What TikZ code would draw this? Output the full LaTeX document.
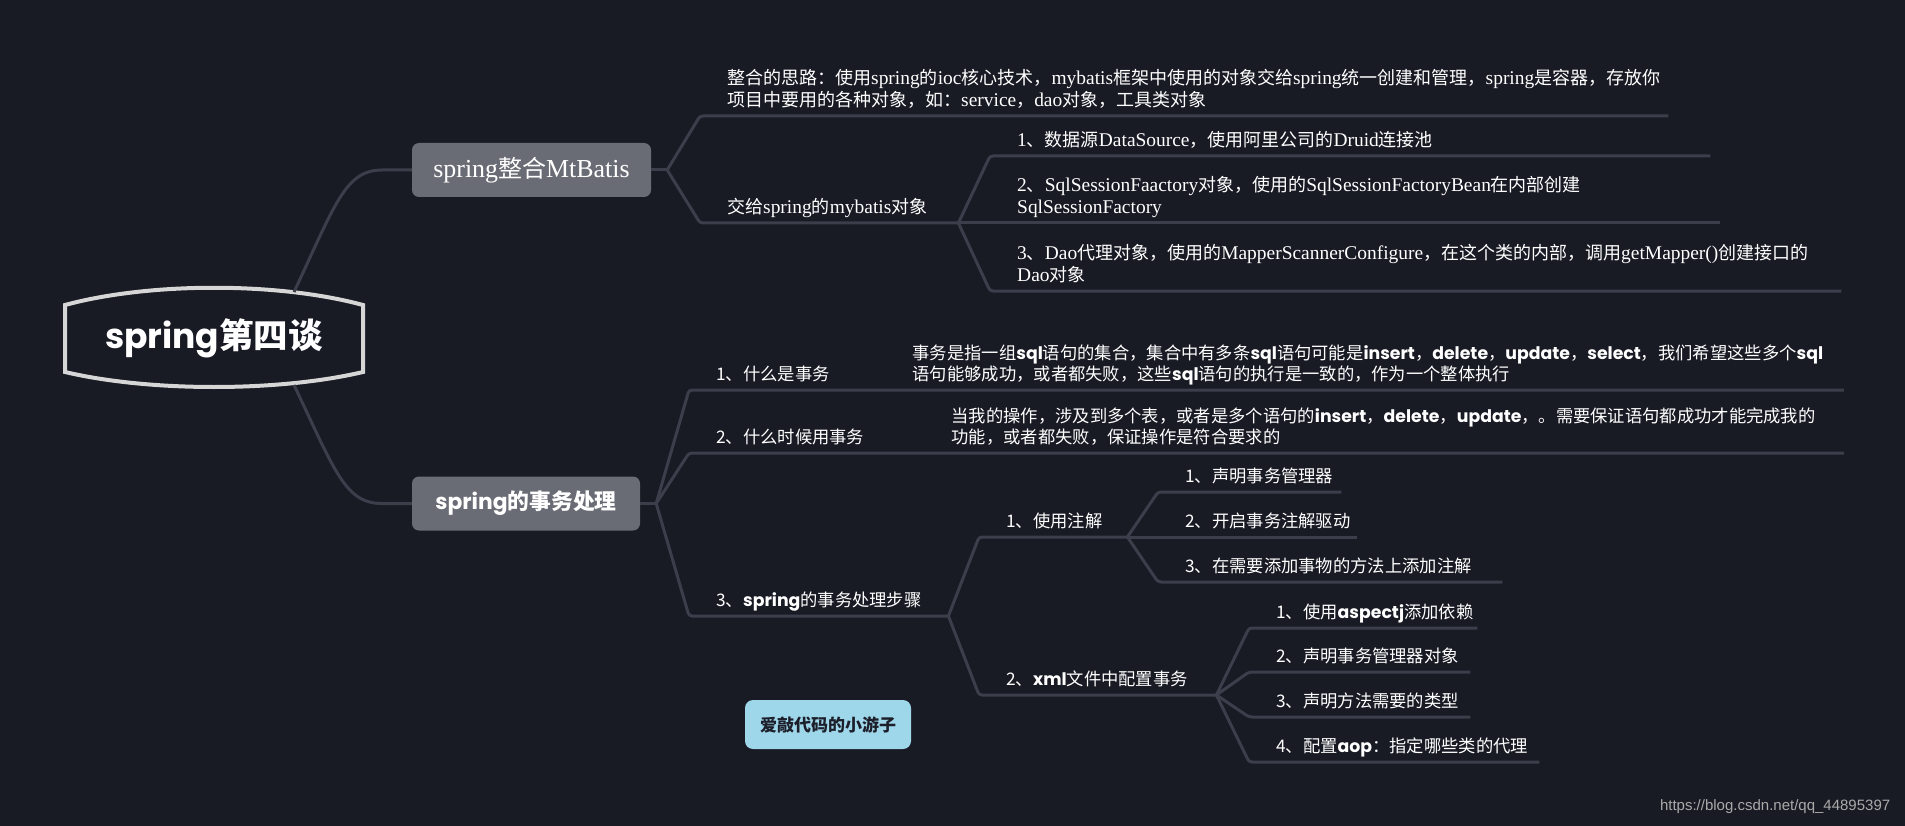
\documentclass[tikz,border=0pt]{standalone}
\usepackage{fontspec}
\setmainfont{Liberation Serif}[Scale=1.08]
\newfontfamily\cjk{Noto Sans CJK SC}
\newfontfamily\latin{Poppins}
\newfontfamily\urlfont{Liberation Sans}
\usetikzlibrary{positioning}

\definecolor{bgdark}{RGB}{24,26,36}
\definecolor{linegray}{RGB}{60,63,75}
\definecolor{boxgray}{RGB}{106,108,117}
\definecolor{framegray}{RGB}{214,214,214}
\definecolor{tagblue}{RGB}{158,214,234}
\definecolor{tagtext}{RGB}{28,31,42}
\definecolor{urlgray}{RGB}{170,170,170}

\newcommand{\zh}[1]{{\cjk #1}}
\newcommand{\kw}[1]{{\latin\bfseries #1}}

\begin{document}
\begin{tikzpicture}[
    x=1pt, y=-1pt,
    branch/.style={draw=linegray, line width=3pt, rounded corners=3pt},
    topic/.style={anchor=south west, inner xsep=27pt, inner ysep=3pt, align=left, text=white, execute at end node=\strut},
    serif/.style={topic, font=\fontsize{18}{22}\selectfont},
    sans/.style={topic, font=\cjk\fontsize{17.3}{21}\selectfont},
    mainbox/.style={rectangle, rounded corners=7pt, fill=boxgray, text=white, minimum height=54pt},
    rootframe/.style={draw=framegray, line width=4pt},
    roottext/.style={text=white, font=\cjk\bfseries\fontsize{34.5}{40}\selectfont},
    tag/.style={rectangle, rounded corners=8pt, fill=tagblue, text=tagtext, minimum width=166pt, minimum height=49pt, font=\cjk\bfseries\fontsize{17}{20}\selectfont}
  ]

  \fill[bgdark] (0,0) rectangle (1905,826);

  % root
  \node[roottext] (root) at (214,338) {\kw{spring}第四谈};
  \draw[rootframe] (65,305) -- (65,372) .. controls (150,392) and (278,392) .. (363,372) -- (363,305) .. controls (278,282) and (150,282) .. cycle;
  \coordinate (rootup) at (294,292);
  \coordinate (rootdown) at (294,385);

  % main topics
  \node[mainbox, minimum width=239pt, font=\fontsize{24}{28}\selectfont] (ma) at (531.5,170) {spring\zh{整合}MtBatis};
  \node[mainbox, minimum width=228pt, font=\cjk\bfseries\fontsize{21.8}{25}\selectfont] (tx) at (526,503.5) {\kw{spring}的事务处理};

  % spring + MyBatis
  \node[serif, text width=914pt] (idea) at (700,116) {\zh{整合的思路：使用}spring\zh{的}ioc\zh{核心技术，}mybatis\zh{框架中使用的对象交给}spring\zh{统一创建和管理，}spring\zh{是容器，存放你}\\\zh{项目中要用的各种对象，如：}service\zh{，}dao\zh{对象，工具类对象}};
  \node[serif, text width=204pt] (hand) at (700,223) {\zh{交给}spring\zh{的}mybatis\zh{对象}};
  \node[serif, text width=666pt] (ds) at (990,156) {1\zh{、数据源}DataSource\zh{，使用阿里公司的}Druid\zh{连接池}};
  \node[serif, text width=676pt] (ssf) at (990,223) {2\zh{、}SqlSessionFaactory\zh{对象，使用的}SqlSessionFactoryBean\zh{在内部创建}\\SqlSessionFactory};
  \node[serif, text width=797pt] (dao) at (990,291) {3\zh{、}Dao\zh{代理对象，使用的}MapperScannerConfigure\zh{，在这个类的内部，调用}getMapper()\zh{创建接口的}\\Dao\zh{对象}};

  % transactions
  \node[sans, text width=115pt] (what) at (689,390) {1、什么是事务};
  \node[sans, right=27pt of what.south east, anchor=south west, text width=904pt] (whatc) {事务是指一组\kw{sql}语句的集合，集合中有多条\kw{sql}语句可能是\kw{insert}，\kw{delete}，\kw{update}，\kw{select}，我们希望这些多个\kw{sql}\\语句能够成功，或者都失败，这些\kw{sql}语句的执行是一致的，作为一个整体执行};
  \node[sans, text width=154pt] (when) at (689,453) {2、什么时候用事务};
  \node[sans, right=27pt of when.south east, anchor=south west, text width=865pt] (whenc) {当我的操作，涉及到多个表，或者是多个语句的\kw{insert}，\kw{delete}，\kw{update}，。需要保证语句都成功才能完成我的\\功能，或者都失败，保证操作是符合要求的};
  \node[sans, text width=205pt] (steps) at (689,616) {3、\kw{spring}的事务处理步骤};

  % steps
  \node[sans, text width=94pt] (anno) at (979,537) {1、使用注解};
  \node[sans, text width=129pt] (annoa) at (1158,492) {1、声明事务管理器};
  \node[sans, text width=145pt] (annob) at (1158,537) {2、开启事务注解驱动};
  \node[sans, text width=290pt] (annoc) at (1158,582) {3、在需要添加事物的方法上添加注解};
  \node[sans, text width=183pt] (xml) at (979,695) {2、\kw{xml}文件中配置事务};
  \node[sans, text width=174pt] (xmla) at (1249,628) {1、使用\kw{aspectj}添加依赖};
  \node[sans, text width=167pt] (xmlb) at (1249,672) {2、声明事务管理器对象};
  \node[sans, text width=167pt] (xmlc) at (1249,717) {3、声明方法需要的类型};
  \node[sans, text width=236pt] (xmld) at (1249,762) {4、配置\kw{aop}：指定哪些类的代理};

  \node[tag] (author) at (828,724.5) {爱敲代码的小游子};
  \node[anchor=east, text=urlgray, font=\urlfont\fontsize{15}{18}\selectfont] (wm) at (1894,807) {https://blog.csdn.net/qq\_44895397};

  % connectors
  \draw[branch] (rootup) .. controls (335,205) and (345,170) .. (385,170) -- (ma.west);
  \draw[branch] (rootdown) .. controls (335,471) and (345,503.5) .. (385,503.5) -- (tx.west);

  \draw[branch] (ma.east) -- ++(16,0) coordinate (mafork);
  \draw[branch] (mafork) -- (idea.south west) -- (idea.south east);
  \draw[branch] (mafork) -- (hand.south west) -- (hand.south east);
  \draw[branch] (hand.south east) -- (ds.south west) -- (ds.south east);
  \draw[branch] (hand.south east) -- (ssf.south west) -- (ssf.south east);
  \draw[branch] (hand.south east) -- (dao.south west) -- (dao.south east);

  \draw[branch] (tx.east) -- ++(16,0) coordinate (txfork);
  \draw[branch] (txfork) -- (what.south west) -- (what.south east) -- (whatc.south west) -- (whatc.south east);
  \draw[branch] (txfork) -- (when.south west) -- (when.south east) -- (whenc.south west) -- (whenc.south east);
  \draw[branch] (txfork) -- (steps.south west) -- (steps.south east);

  \draw[branch] (steps.south east) -- (anno.south west) -- (anno.south east);
  \draw[branch] (steps.south east) -- (xml.south west) -- (xml.south east);
  \draw[branch] (anno.south east) -- (annoa.south west) -- (annoa.south east);
  \draw[branch] (anno.south east) -- (annob.south west) -- (annob.south east);
  \draw[branch] (anno.south east) -- (annoc.south west) -- (annoc.south east);
  \draw[branch] (xml.south east) -- (xmla.south west) -- (xmla.south east);
  \draw[branch] (xml.south east) -- (xmlb.south west) -- (xmlb.south east);
  \draw[branch] (xml.south east) -- (xmlc.south west) -- (xmlc.south east);
  \draw[branch] (xml.south east) -- (xmld.south west) -- (xmld.south east);

\end{tikzpicture}
\end{document}
